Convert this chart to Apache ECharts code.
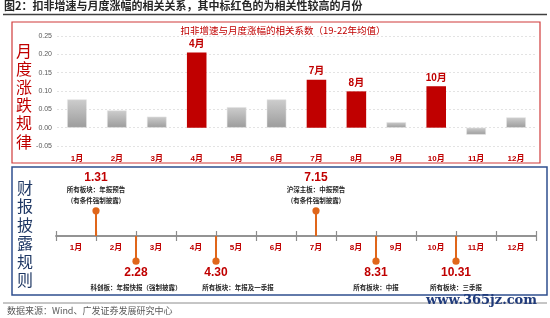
<!DOCTYPE html>
<html><head><meta charset="utf-8">
<script src="https://cdn.jsdelivr.net/npm/echarts@6/dist/echarts.min.js"></script>
<style>html,body{margin:0;padding:0;background:#fff}#c{width:550px;height:318px}</style>
</head><body><div id="c"></div>
<script>
// ---- data ----
const months = ['1月','2月','3月','4月','5月','6月','7月','8月','9月','10月','11月','12月'];
const corrValues = [0.077, 0.047, 0.030, 0.205, 0.056, 0.077, 0.131, 0.099, 0.015, 0.113, -0.019, 0.028];
const highlightMonths = ['4月','7月','8月','10月'];
const yMin = -0.05, yMax = 0.25, yStep = 0.05;
const disclosureDates = ['1.31','2.28','4.30','7.15','8.31','10.31'];
const disclosurePos = [1, 2, 4, 6.5, 8, 10];      // position on the month timeline (months elapsed)
const disclosureSide = [1, -1, -1, 1, -1, -1];    // above / below the timeline
const disclosureNotes = [
  ['所有板块：年报预告','(有条件强制披露)'],
  ['科创板：年报快报（强制披露）'],
  ['所有板块：年报及一季报'],
  ['沪深主板：中报预告','(有条件强制披露)'],
  ['所有板块：中报'],
  ['所有板块：三季报']
];
const titleText = '图2：扣非增速与月度涨幅的相关关系，其中标红色的为相关性较高的月份';
const chartTitle = '扣非增速与月度涨幅的相关系数（19-22年均值）';
const sideTitleTop = '月度涨跌规律';
const sideTitleBottom = '财报披露规则';
const sourceText = '数据来源：Wind、广发证券发展研究中心';
const watermark = 'www.365jz.com';

// ---- style ----
const RED = '#C00000';
const CJK = '"Liberation Sans","Noto Sans CJK SC",sans-serif';
const noteShift = {2: 22};

const chart = echarts.init(document.getElementById('c'), null, {renderer:'canvas'});

const barData = corrValues.map((v, i) => {
  const hi = highlightMonths.includes(months[i]);
  return {
    value: v,
    itemStyle: hi ? {color: RED} : {
      color: new echarts.graphic.LinearGradient(0,0,0,1,[{offset:0,color:'#cdcdcd'},{offset:1,color:'#9c9c9c'}]),
      borderColor:'#e6e6e6', borderWidth:0.5
    },
    label: {show: hi, formatter: months[i], position:'top', distance:3,
      color: RED, fontWeight:'bold', fontSize:10, fontFamily: CJK}
  };
});

const stemData = disclosurePos.map((p, i) => [p, disclosureSide[i] * 0.97, i]);

const option = {
  animation: false,
  backgroundColor: '#fff',
  grid: [
    {left: 57, top: 36, width: 479, height: 110},
    {left: 56, top: 231, width: 480, height: 5},
    {left: 56, top: 210, width: 480, height: 52}
  ],
  xAxis: [
    {type:'category', gridIndex:0, data: months,
      axisLine:{show:false}, axisTick:{show:false},
      axisLabel:{color:RED, fontWeight:'bold', fontSize:8, margin:9, fontFamily:CJK}},
    {type:'category', gridIndex:1, data: months, position:'bottom', boundaryGap:true,
      axisLine:{onZero:false, lineStyle:{color:'#8c8c8c', width:1.5}},
      axisTick:{show:true, interval:0, length:5, lineStyle:{color:'#8c8c8c', width:1.2}},
      axisLabel:{color:RED, fontWeight:'bold', fontSize:8, margin:8, interval:0, fontFamily:CJK}},
    {type:'category', gridIndex:1, data: months, position:'top', offset:-5, boundaryGap:true,
      axisLine:{onZero:false, lineStyle:{color:'#8c8c8c', width:1.5}},
      axisTick:{show:true, interval:0, length:5, lineStyle:{color:'#8c8c8c', width:1.2}},
      axisLabel:{show:false}},
    {type:'value', gridIndex:2, min:0, max:12, show:false}
  ],
  yAxis: [
    {type:'value', gridIndex:0, min:yMin, max:yMax, interval:yStep,
      axisLine:{show:false}, axisTick:{show:false},
      axisLabel:{color:'#595959', fontSize:7, margin:5, formatter: v => v.toFixed(2), fontFamily:'"Liberation Sans",sans-serif'},
      splitLine:{lineStyle:{color:'#dcdcdc', type:[2,2], width:0.8}}},
    {type:'value', gridIndex:1, min:0, max:1, show:false},
    {type:'value', gridIndex:2, min:-1, max:1, show:false}
  ],
  series: [
    {type:'bar', xAxisIndex:0, yAxisIndex:0, data: barData, barWidth:'49%'},
    {type:'custom', xAxisIndex:3, yAxisIndex:2, data: stemData, z:5,
      renderItem: function(params, api){
        const x = api.value(0), d = api.value(1), i = api.value(2);
        const p0 = api.coord([x, 0]), p1 = api.coord([x, d]);
        const up = d > 0;
        const kids = [
          {type:'line', shape:{x1:p0[0], y1:p0[1], x2:p1[0], y2:p1[1]}, style:{stroke:'#E0661A', lineWidth:2}},
          {type:'circle', shape:{cx:p1[0], cy:p1[1], r:3.6}, style:{fill:'#E0661A'}}
        ];
        const notes = disclosureNotes[i];
        const dateY = up ? p1[1] - 33 : p1[1] + 11;
        kids.push({type:'text', style:{text: disclosureDates[i], x:p1[0], y:dateY, align:'center', verticalAlign:'middle',
          fill:RED, font:'bold 12px "Liberation Sans",sans-serif'}});
        const nx = p1[0] + (noteShift[i] || 0);
        notes.forEach((t, k) => {
          const ny = up ? p1[1] - 21 + k * 11 : p1[1] + 26 + k * 11;
          kids.push({type:'text', style:{text:t, x:nx, y:ny, align:'center', verticalAlign:'middle',
            fill:'#262626', font:'bold 6.5px "Noto Sans CJK SC",sans-serif'}});
        });
        return {type:'group', children:kids};
      }
    }
  ],
  graphic: [
    {type:'text', left:4, top:0, style:{text:titleText, fill:'#262626', font:'bold 11px "Noto Sans CJK SC",sans-serif'}},
    {type:'line', shape:{x1:3, y1:14.5, x2:547, y2:14.5}, style:{stroke:'#404040', lineWidth:1.5}},
    {type:'rect', shape:{x:12, y:22, width:528, height:141}, style:{fill:'none', stroke:'#D03B3B', lineWidth:1.2}},
    {type:'rect', shape:{x:12, y:167, width:535, height:128}, style:{fill:'none', stroke:'#2F4F8F', lineWidth:1.5}},
    {type:'text', x:283, y:30, style:{text:chartTitle, fill:RED, align:'center', verticalAlign:'middle', font:'9.5px "Noto Sans CJK SC",sans-serif'}},
    {type:'text', x:24, y:96, style:{text:sideTitleTop.split('').join('\n'), fill:RED, align:'center', verticalAlign:'middle', lineHeight:18.2, font:'16px "Noto Sans CJK SC",sans-serif'}},
    {type:'text', x:25, y:234, style:{text:sideTitleBottom.split('').join('\n'), fill:'#1F3864', align:'center', verticalAlign:'middle', lineHeight:18.4, font:'16px "Noto Sans CJK SC",sans-serif'}},
    {type:'line', shape:{x1:3, y1:303, x2:547, y2:303}, style:{stroke:'#8c8c8c', lineWidth:1}},
    {type:'text', x:7, y:311, style:{text:sourceText, fill:'#595959', verticalAlign:'middle', font:'9px "Noto Sans CJK SC",sans-serif'}},
    {type:'text', x:537, y:301, style:{text:watermark, fill:'#1F3A7A', align:'right', verticalAlign:'middle', font:'bold 13px "DejaVu Serif",serif'}}
  ]
};
chart.setOption(option);
</script>
</body></html>
